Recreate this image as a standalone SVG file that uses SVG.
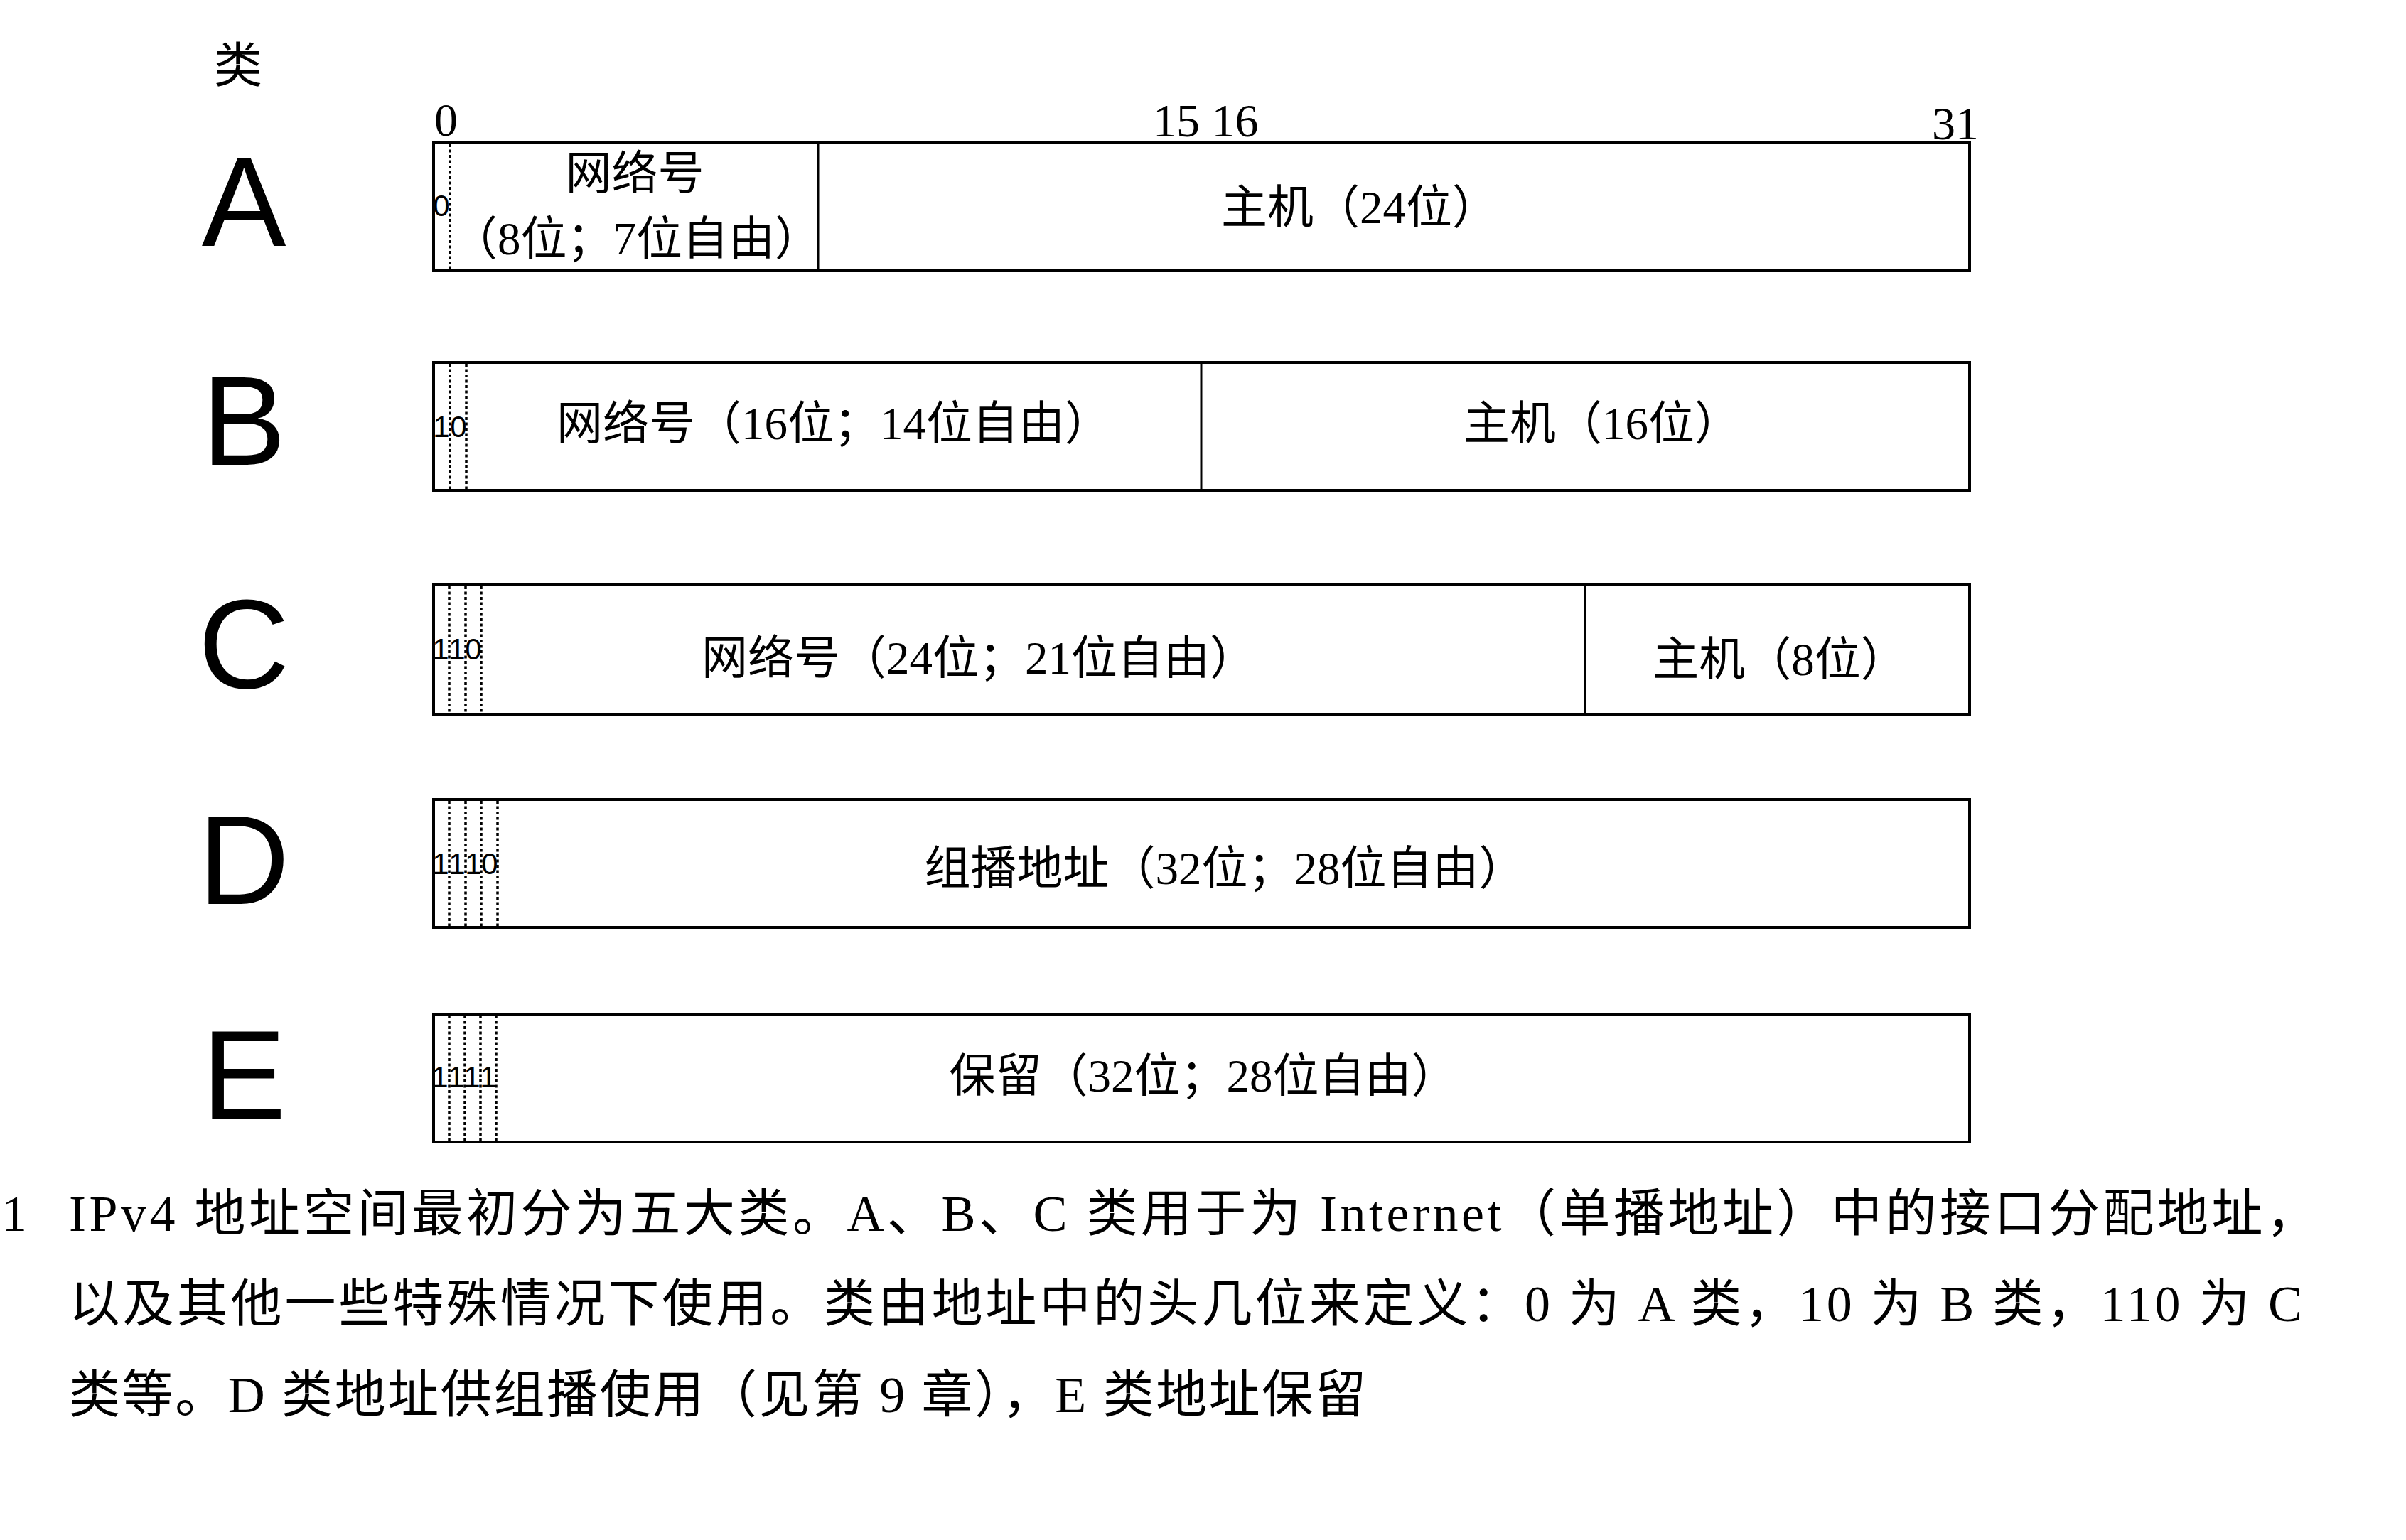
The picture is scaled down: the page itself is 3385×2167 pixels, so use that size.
<svg xmlns="http://www.w3.org/2000/svg" width="3385" height="2167" viewBox="0 0 3385 2167">
<style>
.box{fill:none;stroke:#000;stroke-width:4}
.div{stroke:#000;stroke-width:3}
.dot{stroke:#000;stroke-width:3.5;stroke-dasharray:4 3.5}
.cls{font-family:"Liberation Sans",Arial,sans-serif;font-size:178px;fill:#000;text-anchor:middle}
.bitn{font-family:"Liberation Serif","Times New Roman",serif;font-size:66px;fill:#000}
.bitv{font-family:"Liberation Sans",Arial,sans-serif;font-size:42px;fill:#000;text-anchor:middle;dominant-baseline:central}
.lbl{font-family:"Liberation Serif","Noto Sans CJK SC",serif;font-size:65px;fill:#000;text-anchor:middle;dominant-baseline:central}
.cap{font-family:"Liberation Serif","Noto Sans CJK SC",serif;font-size:72px;fill:#000;dominant-baseline:central}
</style>
<rect width="3385" height="2167" fill="#fff"/>

<text x="335" y="93" class="lbl" style="font-size:68px">类</text>

<g id="bit-numbers">
<text x="611" y="191" class="bitn">0</text>
<text x="1622" y="192" class="bitn">15 16</text>
<text x="2718" y="196" class="bitn">31</text>
</g>

<g id="classA">
<text x="343" y="346" class="cls">A</text>
<rect x="610" y="201" width="2161" height="180" class="box"/>
<line x1="1151" y1="201" x2="1151" y2="381" class="div"/>
<line x1="633" y1="203" x2="633" y2="379" class="dot"/>
<text x="621" y="289" class="bitv">0</text>
<text x="893" y="244" class="lbl">网络号</text>
<text x="895" y="336" class="lbl">（8位；7位自由）</text>
<text x="1913" y="292" class="lbl">主机（24位）</text>
</g>

<g id="classB">
<text x="343" y="654" class="cls">B</text>
<rect x="610" y="510" width="2161" height="180" class="box"/>
<line x1="1690" y1="510" x2="1690" y2="690" class="div"/>
<line x1="633" y1="512" x2="633" y2="688" class="dot"/>
<line x1="656" y1="512" x2="656" y2="688" class="dot"/>
<text x="621" y="600" class="bitv">1</text>
<text x="645" y="600" class="bitv">0</text>
<text x="1173" y="596" class="lbl">网络号（16位；14位自由）</text>
<text x="2254" y="596" class="lbl">主机（16位）</text>
</g>

<g id="classC">
<text x="343" y="968" class="cls">C</text>
<rect x="610" y="823" width="2161" height="182" class="box"/>
<line x1="2230" y1="823" x2="2230" y2="1005" class="div"/>
<line x1="632" y1="825" x2="632" y2="1003" class="dot"/>
<line x1="655" y1="825" x2="655" y2="1003" class="dot"/>
<line x1="677" y1="825" x2="677" y2="1003" class="dot"/>
<text x="620" y="913" class="bitv">1</text>
<text x="643" y="913" class="bitv">1</text>
<text x="666" y="913" class="bitv">0</text>
<text x="1377" y="926" class="lbl">网络号（24位；21位自由）</text>
<text x="2504" y="928" class="lbl">主机（8位）</text>
</g>

<g id="classD">
<text x="343" y="1272" class="cls">D</text>
<rect x="610" y="1125" width="2161" height="180" class="box"/>
<line x1="632" y1="1127" x2="632" y2="1303" class="dot"/>
<line x1="655" y1="1127" x2="655" y2="1303" class="dot"/>
<line x1="677" y1="1127" x2="677" y2="1303" class="dot"/>
<line x1="700" y1="1127" x2="700" y2="1303" class="dot"/>
<text x="620" y="1215" class="bitv">1</text>
<text x="643" y="1215" class="bitv">1</text>
<text x="666" y="1215" class="bitv">1</text>
<text x="689" y="1215" class="bitv">0</text>
<text x="1723" y="1222" class="lbl">组播地址（32位；28位自由）</text>
</g>

<g id="classE">
<text x="343" y="1574" class="cls">E</text>
<rect x="610" y="1427" width="2161" height="180" class="box"/>
<line x1="632" y1="1429" x2="632" y2="1605" class="dot"/>
<line x1="654" y1="1429" x2="654" y2="1605" class="dot"/>
<line x1="676" y1="1429" x2="676" y2="1605" class="dot"/>
<line x1="698" y1="1429" x2="698" y2="1605" class="dot"/>
<text x="619" y="1515" class="bitv">1</text>
<text x="642" y="1515" class="bitv">1</text>
<text x="664" y="1515" class="bitv">1</text>
<text x="687" y="1515" class="bitv">1</text>
<text x="1693" y="1514" class="lbl">保留（32位；28位自由）</text>
</g>

<g id="connectors"></g>

<g id="caption">
<text x="2" y="1708" class="cap">1</text>
<text x="97" y="1708" class="cap" textLength="3163" lengthAdjust="spacing">IPv4 地址空间最初分为五大类。A、B、C 类用于为 Internet（单播地址）中的接口分配地址，</text>
<text x="97" y="1835" class="cap" textLength="3142" lengthAdjust="spacing">以及其他一些特殊情况下使用。类由地址中的头几位来定义：0 为 A 类，10 为 B 类，110 为 C</text>
<text x="97" y="1963" class="cap" textLength="1825" lengthAdjust="spacing">类等。D 类地址供组播使用（见第 9 章），E 类地址保留</text>
</g>
</svg>
